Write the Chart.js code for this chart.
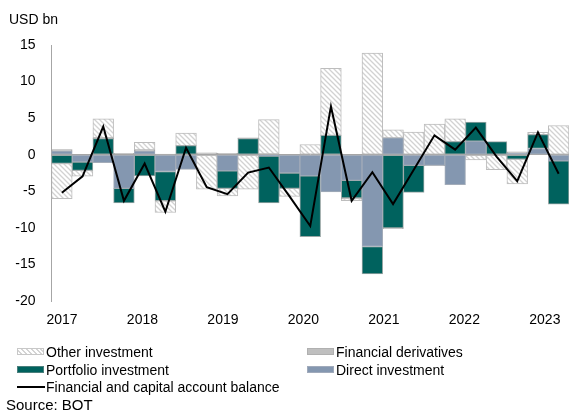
<!DOCTYPE html>
<html><head><meta charset="utf-8">
<script src="https://cdn.jsdelivr.net/npm/chart.js@4.4.0/dist/chart.umd.min.js"></script>
<style>
html,body{margin:0;padding:0;background:#fff;}
#wrap{position:relative;width:577px;height:416px;font-family:"Liberation Sans",Arial,sans-serif;color:#000;overflow:hidden;}
canvas{position:absolute;left:0;top:0;}
.t{position:absolute;font-size:14px;line-height:16px;white-space:nowrap;}
.sw{position:absolute;width:27px;height:7px;box-sizing:border-box;}
</style></head><body>
<div id="wrap">
<canvas id="c" width="577" height="416"></canvas>
<div class="t" style="left:9px;top:11px">USD bn</div>
<div class="sw" style="left:17px;top:348px;border:1px solid #c8c8c8;background:repeating-linear-gradient(45deg,#fff 0 2px,#d4d4d4 2px 3.4px)"></div>
<div class="t" style="left:46px;top:344px">Other investment</div>
<div class="sw" style="left:307px;top:348px;background:#bfbfbf;border:1px solid #b0b0b0"></div>
<div class="t" style="left:336px;top:344px">Financial derivatives</div>
<div class="sw" style="left:17px;top:366px;background:#00625e;border:1px solid #4a7f7c"></div>
<div class="t" style="left:46px;top:362px">Portfolio investment</div>
<div class="sw" style="left:307px;top:366px;background:#8497b0;border:1px solid #a0aabb"></div>
<div class="t" style="left:336px;top:362px">Direct investment</div>
<div style="position:absolute;left:17px;top:386px;width:28px;height:2px;background:#000"></div>
<div class="t" style="left:46px;top:379px">Financial and capital account balance</div>
<div class="t" style="left:6px;top:397px;font-size:15px">Source: BOT</div>
</div>
<script>
const categories = ['2017Q1','2017Q2','2017Q3','2017Q4','2018Q1','2018Q2','2018Q3','2018Q4',
  '2019Q1','2019Q2','2019Q3','2019Q4','2020Q1','2020Q2','2020Q3','2020Q4',
  '2021Q1','2021Q2','2021Q3','2021Q4','2022Q1','2022Q2','2022Q3','2022Q4','2023Q1'];
const tickLabels = ['2017','2018','2019','2020','2021','2022','2023'];
const directInvestment     = [0.5,-1.0,-1.1,-4.6,0.5,-2.3,-2.0,0,-2.2,0,-0.2,-2.5,-2.9,-5.1,-3.5,-12.55,2.3,-1.45,-1.45,-4.1,1.85,0,0.2,0.85,-0.85];
const portfolioInvestment  = [-1.2,-1.15,2.2,-2.0,-2.9,-4.0,1.25,0,-2.4,2.2,-6.4,-2.1,-8.3,2.65,-2.4,-3.75,-10.0,-3.7,0,1.8,2.6,1.8,-0.6,1.9,-5.9];
const financialDerivatives = [0.2,0,0.1,0.2,0.15,0.1,0,0.25,0.2,0.1,0.1,0,0,0,-0.1,0,-0.1,0,-0.05,0,0,0,0.2,0,0];
const otherInvestment      = [-4.8,-0.8,2.6,0,1.05,-1.6,1.7,-4.7,-1.05,-4.7,4.7,-1.1,1.4,9.15,-0.3,13.9,1.1,3.1,4.2,3.1,-0.7,-2.05,-3.4,0.3,4.0];
const accountBalance       = [-5.2,-2.95,3.85,-6.3,-1.2,-7.8,0.95,-4.45,-5.4,-2.45,-1.75,-5.7,-9.75,6.6,-6.3,-2.4,-6.75,-2.05,2.65,0.7,3.7,-0.25,-3.6,3.05,-2.6];
const yTicks = [15,10,5,0,-5,-10,-15,-20];

function hatch(){
  const n=5, c=document.createElement('canvas'); c.width=n; c.height=n;
  const g=c.getContext('2d');
  g.fillStyle='#ffffff'; g.fillRect(0,0,n,n);
  g.strokeStyle='#d2d2d2'; g.lineWidth=1.3;
  g.beginPath();
  g.moveTo(-1,-1); g.lineTo(n+1,n+1);
  g.moveTo(-1,n-1); g.lineTo(1,n+1);
  g.moveTo(n-1,-1); g.lineTo(n+1,1);
  g.stroke();
  return g.createPattern(c,'repeat');
}
const ctx=document.getElementById('c').getContext('2d');
const FONT={family:'"Liberation Sans", Arial, sans-serif',size:14};
const barBase={type:'bar',stack:'s',borderWidth:1,borderSkipped:false,categoryPercentage:1,barPercentage:1,order:1};
new Chart(ctx,{
  data:{labels:categories,datasets:[
    Object.assign({},barBase,{label:'Direct investment',data:directInvestment,backgroundColor:'#8497b0',borderColor:'#a3acb9'}),
    Object.assign({},barBase,{label:'Portfolio investment',data:portfolioInvestment,backgroundColor:'#00625e',borderColor:'#9aa7a6'}),
    Object.assign({},barBase,{label:'Financial derivatives',data:financialDerivatives,backgroundColor:'#bfbfbf',borderColor:'#a6a6a6'}),
    Object.assign({},barBase,{label:'Other investment',data:otherInvestment,backgroundColor:hatch(),borderColor:'#bdbdbd'}),
    {type:'line',label:'Financial and capital account balance',data:accountBalance,stack:'line',order:0,
     borderColor:'#000',borderWidth:2,pointRadius:0,tension:0,fill:false}
  ]},
  options:{
    responsive:false,animation:false,devicePixelRatio:1,
    layout:{padding:{left:0,right:8,top:45,bottom:85}},
    plugins:{legend:{display:false},tooltip:{enabled:false}},
    scales:{
      x:{stacked:true,offset:true,display:false},
      years:{type:'linear',position:'bottom',min:-0.13,max:6.3,
        afterBuildTicks:s=>{s.ticks=tickLabels.map((t,i)=>({value:i}));},
        grid:{display:false,drawTicks:false},border:{display:false},
        ticks:{autoSkip:false,maxRotation:0,minRotation:0,padding:11,color:'#000',font:FONT,
          callback:v=>tickLabels[v]},
        afterFit:s=>{s.height=30;s.paddingLeft=0;s.paddingRight=0;}},
      y:{stacked:true,min:-20,max:15,
        afterBuildTicks:s=>{s.ticks=yTicks.map(v=>({value:v}));},
        grid:{drawTicks:false,color:c=>c.tick&&c.tick.value===0?'#a6a6a6':'rgba(0,0,0,0)',lineWidth:1},
        border:{display:true,color:'#a6a6a6',width:1},
        ticks:{padding:16,color:'#000',font:FONT},
        afterFit:s=>{s.width=51.5;s.paddingTop=0;s.paddingBottom=0;}}
    }
  }
});
</script>
</body></html>
